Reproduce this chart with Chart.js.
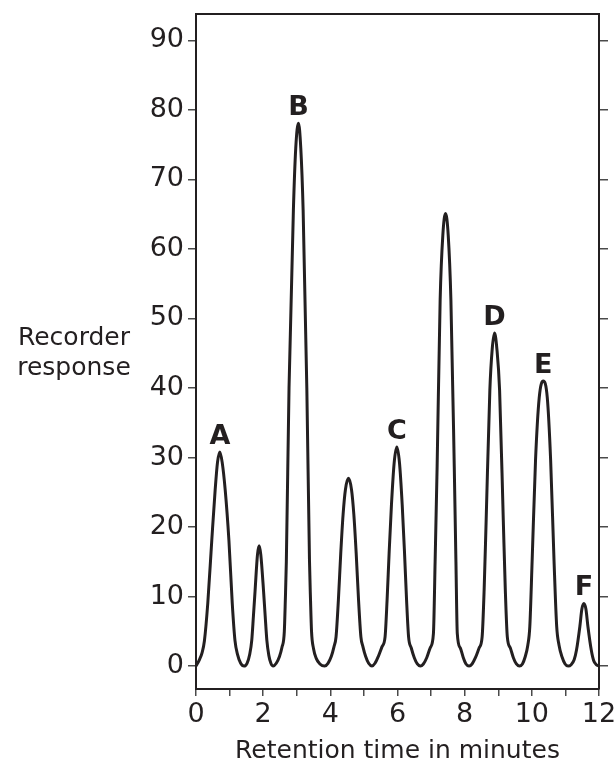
<!DOCTYPE html>
<html>
<head>
<meta charset="utf-8">
<script src="https://cdn.jsdelivr.net/npm/chart.js@4.4.1/dist/chart.umd.min.js"></script>
<style>
  html, body { margin: 0; padding: 0; background: #ffffff; }
  canvas { display: block; }
</style>
</head>
<body>
<canvas id="c" width="615" height="762"></canvas>
<script>
// ---- data ----
const retentionTimes = [
  0, 0.10, 0.18, 0.25, 0.35, 0.47, 0.57, 0.64, 0.71, 0.78, 0.87, 0.98, 1.08, 1.16,
  1.24, 1.33, 1.43, 1.52, 1.60, 1.66, 1.71, 1.76, 1.83, 1.88, 1.93, 2.01, 2.06, 2.11,
  2.17, 2.23, 2.30, 2.39, 2.48, 2.56, 2.63, 2.66, 2.69, 2.77, 2.90, 2.97, 3.05, 3.12,
  3.19, 3.30, 3.38, 3.41, 3.44, 3.50, 3.58, 3.69, 3.83, 3.93, 4.03, 4.11, 4.17, 4.24,
  4.31, 4.38, 4.45, 4.54, 4.63, 4.70, 4.77, 4.84, 4.91, 4.97, 5.05, 5.14, 5.24, 5.33,
  5.43, 5.54, 5.63, 5.69, 5.75, 5.82, 5.90, 5.98, 6.06, 6.14, 6.21, 6.27, 6.33, 6.41,
  6.50, 6.59, 6.68, 6.77, 6.87, 6.98, 7.07, 7.12, 7.18, 7.27, 7.35, 7.43, 7.51, 7.59,
  7.69, 7.74, 7.78, 7.87, 7.96, 8.04, 8.13, 8.22, 8.32, 8.43, 8.52, 8.58, 8.64, 8.75,
  8.82, 8.89, 8.96, 9.04, 9.15, 9.21, 9.27, 9.36, 9.45, 9.54, 9.63, 9.72, 9.80, 9.88,
  9.94, 10.01, 10.11, 10.22, 10.34, 10.46, 10.56, 10.66, 10.74, 10.81, 10.90, 10.99, 11.08, 11.17,
  11.26, 11.33, 11.43, 11.49, 11.55, 11.61, 11.67, 11.77, 11.84, 11.92, 12.00
];
const recorderResponse = [
  0, 0.9, 1.9, 3.6, 9.0, 18.1, 25.3, 29.3, 30.8, 29.3, 25.3, 18.1, 9.0, 3.7,
  1.6, 0.4, 0, 0.4, 1.7, 3.7, 7.2, 10.9, 16.0, 17.3, 16.0, 10.9, 7.2, 3.7,
  1.5, 0.4, 0, 0.4, 1.3, 2.7, 5.0, 9.5, 15.0, 40.0, 65.6, 74.5, 78.1, 74.5,
  65.6, 40.0, 15.0, 9.5, 5.0, 2.5, 1.1, 0.3, 0, 0.4, 1.4, 2.8, 4.2, 9.5,
  16.2, 21.8, 25.4, 27.0, 25.4, 21.8, 16.2, 9.5, 4.2, 2.8, 1.4, 0.4, 0, 0.4,
  1.4, 2.8, 4.2, 9.5, 16.2, 23.2, 29.2, 31.5, 29.2, 23.2, 16.2, 9.5, 4.2, 2.6,
  1.2, 0.3, 0, 0.3, 1.2, 2.7, 4.7, 15.0, 28.7, 52.7, 62.0, 65.1, 62.0, 52.7,
  28.7, 15.0, 4.7, 2.6, 1.2, 0.3, 0, 0.3, 1.2, 2.6, 4.2, 11.0, 21.0, 39.7,
  45.6, 47.9, 45.6, 39.7, 21.0, 11.0, 4.2, 2.6, 1.2, 0.3, 0, 0.3, 1.3, 3.0,
  5.7, 15.3, 29.6, 38.6, 41.0, 38.6, 29.6, 15.3, 5.7, 3.0, 1.3, 0.3, 0, 0.2,
  0.9, 2.3, 5.7, 8.2, 9.0, 8.2, 5.7, 2.3, 0.8, 0.2, 0
];
const peakLabels = ['A', 'B', 'C', 'D', 'E', 'F'];
const peakTimes = [0.71, 3.05, 5.98, 8.89, 10.34, 11.55];
const peakHeights = [30.8, 78.1, 31.5, 47.9, 41.0, 9.0];

const xTickValues = [0, 1, 2, 3, 4, 5, 6, 7, 8, 9, 10, 11, 12];
const xTickLabels = ['0', '2', '4', '6', '8', '10', '12'];
const yTickValues = [0, 10, 20, 30, 40, 50, 60, 70, 80, 90];
const xTitle = 'Retention time in minutes';
const yTitleLines = ['Recorder', 'response'];

// ---- styling ----
const INK = '#231f20';
const FONT = "'DejaVu Sans', 'Liberation Sans', Arial, sans-serif";
const Y_MIN = -3.3, Y_MAX = 93.8;

const points = retentionTimes.map((t, i) => ({ x: t, y: recorderResponse[i] }));

const annotationPlugin = {
  id: 'annotations',
  afterDatasetsDraw(chart) {
    const { ctx, scales } = chart;
    ctx.save();
    ctx.fillStyle = INK;
    ctx.font = "bold 27px " + FONT;
    ctx.textAlign = 'center';
    ctx.textBaseline = 'alphabetic';
    peakLabels.forEach((lab, i) => {
      const px = scales.x.getPixelForValue(peakTimes[i]);
      const py = scales.y.getPixelForValue(peakHeights[i]);
      ctx.fillText(lab, px, py - 8);
    });
    ctx.font = "25px " + FONT;
    ctx.textAlign = 'center';
    ctx.fillText(yTitleLines[0], 74, 345);
    ctx.fillText(yTitleLines[1], 74, 375);
    ctx.restore();
  }
};

const setTicks = (vals) => (axis) => { axis.ticks = vals.map(v => ({ value: v })); };

new Chart(document.getElementById('c'), {
  type: 'line',
  data: {
    datasets: [{
      data: points,
      borderColor: INK,
      borderWidth: 3,
      pointRadius: 0,
      fill: false,
      cubicInterpolationMode: 'monotone'
    }]
  },
  options: {
    responsive: false,
    devicePixelRatio: 1,
    animation: false,
    layout: { padding: 0 },
    plugins: { legend: { display: false }, tooltip: { enabled: false }, title: { display: false } },
    scales: {
      x: {
        type: 'linear', position: 'bottom', min: 0, max: 12,
        afterBuildTicks: setTicks(xTickValues),
        afterFit: (s) => { s.height = 73; s.paddingLeft = 0; s.paddingRight = 0; },
        ticks: {
          autoSkip: false, maxRotation: 0, minRotation: 0, padding: 3,
          color: INK, font: { family: FONT, size: 27 },
          callback: (v) => xTickLabels.includes(String(v)) ? String(v) : ''
        },
        grid: { drawOnChartArea: false, drawTicks: true, tickLength: 7, color: '#4a4a4a', lineWidth: 1.5 },
        border: { display: true, color: INK, width: 2 },
        title: { display: true, text: xTitle, color: INK, font: { family: FONT, size: 25, lineHeight: 1 }, padding: { top: 0, bottom: -2 } }
      },
      x2: {
        type: 'linear', position: 'top', min: 0, max: 12,
        afterFit: (s) => { s.height = 14; s.paddingLeft = 0; s.paddingRight = 0; },
        ticks: { display: false },
        grid: { display: false, drawTicks: false },
        border: { display: true, color: INK, width: 2 }
      },
      y: {
        type: 'linear', position: 'left', min: Y_MIN, max: Y_MAX,
        afterBuildTicks: setTicks(yTickValues),
        afterFit: (s) => { s.width = 196; },
        ticks: { padding: 4, color: INK, font: { family: FONT, size: 27, lineHeight: 0.7 } },
        grid: { drawOnChartArea: false, drawTicks: true, tickLength: 8, color: '#4a4a4a', lineWidth: 1.5 },
        border: { display: true, color: INK, width: 2 }
      },
      y2: {
        type: 'linear', position: 'right', min: Y_MIN, max: Y_MAX,
        afterBuildTicks: setTicks(yTickValues),
        afterFit: (s) => { s.width = 16; },
        ticks: { display: false },
        grid: { drawOnChartArea: false, drawTicks: true, tickLength: 9, color: '#4a4a4a', lineWidth: 1.5 },
        border: { display: true, color: INK, width: 2 }
      }
    }
  },
  plugins: [annotationPlugin]
});
</script>
</body>
</html>
